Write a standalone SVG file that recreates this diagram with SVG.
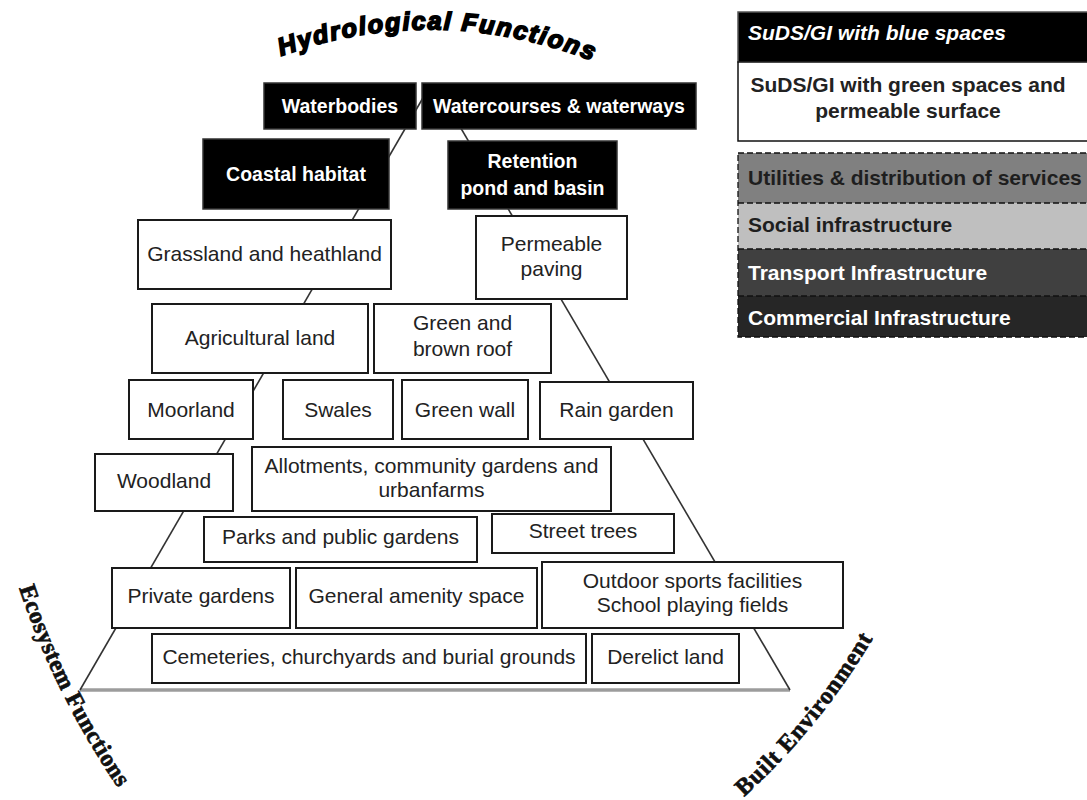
<svg xmlns="http://www.w3.org/2000/svg" width="1087" height="800" viewBox="0 0 1087 800">
  <style>
    .box { fill: #ffffff; stroke: #1a1a1a; stroke-width: 2; }
    .dark { fill: #000000; stroke: #333333; stroke-width: 1.5; }
    .lbl { font-family: "Liberation Sans", Arial, sans-serif; font-size: 21px; fill: #222222; text-anchor: middle; }
    .wlbl { font-family: "Liberation Sans", Arial, sans-serif; font-size: 19.5px; font-weight: bold; fill: #ffffff; text-anchor: middle; }
    .leg { font-family: "Liberation Sans", Arial, sans-serif; font-size: 21px; font-weight: bold; }
    .side { stroke: #333333; stroke-width: 1.6; fill: none; }
    .dash { fill: none; stroke: #111111; stroke-width: 1.3; stroke-dasharray: 6 3; }
    .arc-serif { font-family: "Liberation Serif", "Times New Roman", serif; font-size: 24px; font-weight: bold; fill: #111111; stroke: #111111; stroke-width: 0.7; }
  </style>
  <defs>
    <path id="arcTop" d="M 281 56 Q 435 0 596 62"/>
    <path id="arcLeft" d="M 19 588 Q 56 699 123 795"/>
    <path id="arcRight" d="M 744 797 Q 823 725 878 630"/>
  </defs>

  <!-- pyramid outline -->
  <g id="connectors">
    <line x1="80" y1="690" x2="790" y2="690" stroke="#9c9c9c" stroke-width="3.5"/>
    <line class="side" x1="431" y1="84" x2="80" y2="690"/>
    <line class="side" x1="435" y1="84" x2="790" y2="690"/>
  </g>

  <!-- curved axis titles -->
  <text font-family="Liberation Sans, Arial, sans-serif" font-size="25" font-weight="bold" font-style="italic" fill="#000" stroke="#000" stroke-width="1.8">
    <textPath href="#arcTop" textLength="318" lengthAdjust="spacing">Hydrological Functions</textPath>
  </text>
  <text class="arc-serif"><textPath href="#arcLeft" textLength="224" lengthAdjust="spacing">Ecosystem Functions</textPath></text>
  <text class="arc-serif"><textPath href="#arcRight" textLength="205" lengthAdjust="spacing">Built Environment</textPath></text>

  <!-- blue-space nodes -->
  <g id="waterbodies"><rect class="dark" x="264" y="83" width="152" height="46"/><text class="wlbl" x="340" y="113">Waterbodies</text></g>
  <g id="watercourses"><rect class="dark" x="422" y="83" width="274" height="46"/><text class="wlbl" x="559" y="113">Watercourses &amp; waterways</text></g>
  <g id="coastal"><rect class="dark" x="203" y="139" width="186" height="70"/><text class="wlbl" x="296" y="181">Coastal habitat</text></g>
  <g id="retention"><rect class="dark" x="448" y="141" width="169" height="68"/><text class="wlbl" x="532.5" y="168">Retention</text><text class="wlbl" x="532.5" y="195">pond and basin</text></g>

  <!-- green-space nodes -->
  <g id="grassland"><rect class="box" x="138" y="220" width="253" height="69"/><text class="lbl" x="264.5" y="261">Grassland and heathland</text></g>
  <g id="permeable"><rect class="box" x="476" y="216" width="151" height="83"/><text class="lbl" x="551.5" y="251">Permeable</text><text class="lbl" x="551.5" y="276">paving</text></g>
  <g id="agricultural"><rect class="box" x="152" y="304" width="216" height="69"/><text class="lbl" x="260" y="345">Agricultural land</text></g>
  <g id="greenroof"><rect class="box" x="374" y="304" width="177" height="69"/><text class="lbl" x="462.5" y="330">Green and</text><text class="lbl" x="462.5" y="356">brown roof</text></g>
  <g id="moorland"><rect class="box" x="129" y="380" width="124" height="59"/><text class="lbl" x="191" y="417">Moorland</text></g>
  <g id="swales"><rect class="box" x="283" y="380" width="110" height="59"/><text class="lbl" x="338" y="417">Swales</text></g>
  <g id="greenwall"><rect class="box" x="402" y="380" width="126" height="59"/><text class="lbl" x="465" y="417">Green wall</text></g>
  <g id="raingarden"><rect class="box" x="540" y="382" width="153" height="57"/><text class="lbl" x="616.5" y="417">Rain garden</text></g>
  <g id="woodland"><rect class="box" x="95" y="454" width="138" height="57"/><text class="lbl" x="164" y="488">Woodland</text></g>
  <g id="allotments"><rect class="box" x="252" y="447" width="359" height="64"/><text class="lbl" x="431.5" y="473">Allotments, community gardens and</text><text class="lbl" x="431.5" y="497">urbanfarms</text></g>
  <g id="parks"><rect class="box" x="204" y="517" width="273" height="45"/><text class="lbl" x="340.5" y="544">Parks and public gardens</text></g>
  <g id="streettrees"><rect class="box" x="492" y="514" width="182" height="39"/><text class="lbl" x="583" y="538">Street trees</text></g>
  <g id="private"><rect class="box" x="112" y="568" width="178" height="60"/><text class="lbl" x="201" y="603">Private gardens</text></g>
  <g id="amenity"><rect class="box" x="296" y="568" width="241" height="60"/><text class="lbl" x="416.5" y="603">General amenity space</text></g>
  <g id="outdoor"><rect class="box" x="542" y="562" width="301" height="66"/><text class="lbl" x="692.5" y="588">Outdoor sports facilities</text><text class="lbl" x="692.5" y="612">School playing fields</text></g>
  <g id="cemeteries"><rect class="box" x="152" y="634" width="434" height="49"/><text class="lbl" x="369" y="664">Cemeteries, churchyards and burial grounds</text></g>
  <g id="derelict"><rect class="box" x="592" y="634" width="147" height="49"/><text class="lbl" x="665.5" y="664">Derelict land</text></g>

  <!-- legend -->
  <g id="legend">
    <rect x="738" y="12" width="360" height="50" fill="#000" stroke="#555" stroke-width="1.5"/>
    <text class="leg" x="748" y="40" font-size="20" font-style="italic" fill="#fff">SuDS/GI with blue spaces</text>
    <rect x="738" y="62" width="360" height="79" fill="#fff" stroke="#111" stroke-width="1.5"/>
    <text class="leg" x="908" y="92" text-anchor="middle" fill="#222">SuDS/GI with green spaces and</text>
    <text class="leg" x="908" y="118" text-anchor="middle" fill="#222">permeable surface</text>

    <rect x="738" y="153" width="360" height="50" fill="#808080"/>
    <rect x="738" y="203" width="360" height="46" fill="#bfbfbf"/>
    <rect x="738" y="249" width="360" height="47" fill="#404040"/>
    <rect x="738" y="296" width="360" height="41" fill="#262626"/>
    <rect class="dash" x="738" y="153" width="360" height="184"/>
    <line class="dash" x1="738" y1="203" x2="1098" y2="203"/>
    <line class="dash" x1="738" y1="249" x2="1098" y2="249"/>
    <line class="dash" x1="738" y1="296" x2="1098" y2="296"/>
    <text class="leg" x="748" y="185" fill="#1e1e1e">Utilities &amp; distribution of services</text>
    <text class="leg" x="748" y="232" fill="#1e1e1e">Social infrastructure</text>
    <text class="leg" x="748" y="280" fill="#fff">Transport Infrastructure</text>
    <text class="leg" x="748" y="325" fill="#fff">Commercial Infrastructure</text>
  </g>
</svg>
